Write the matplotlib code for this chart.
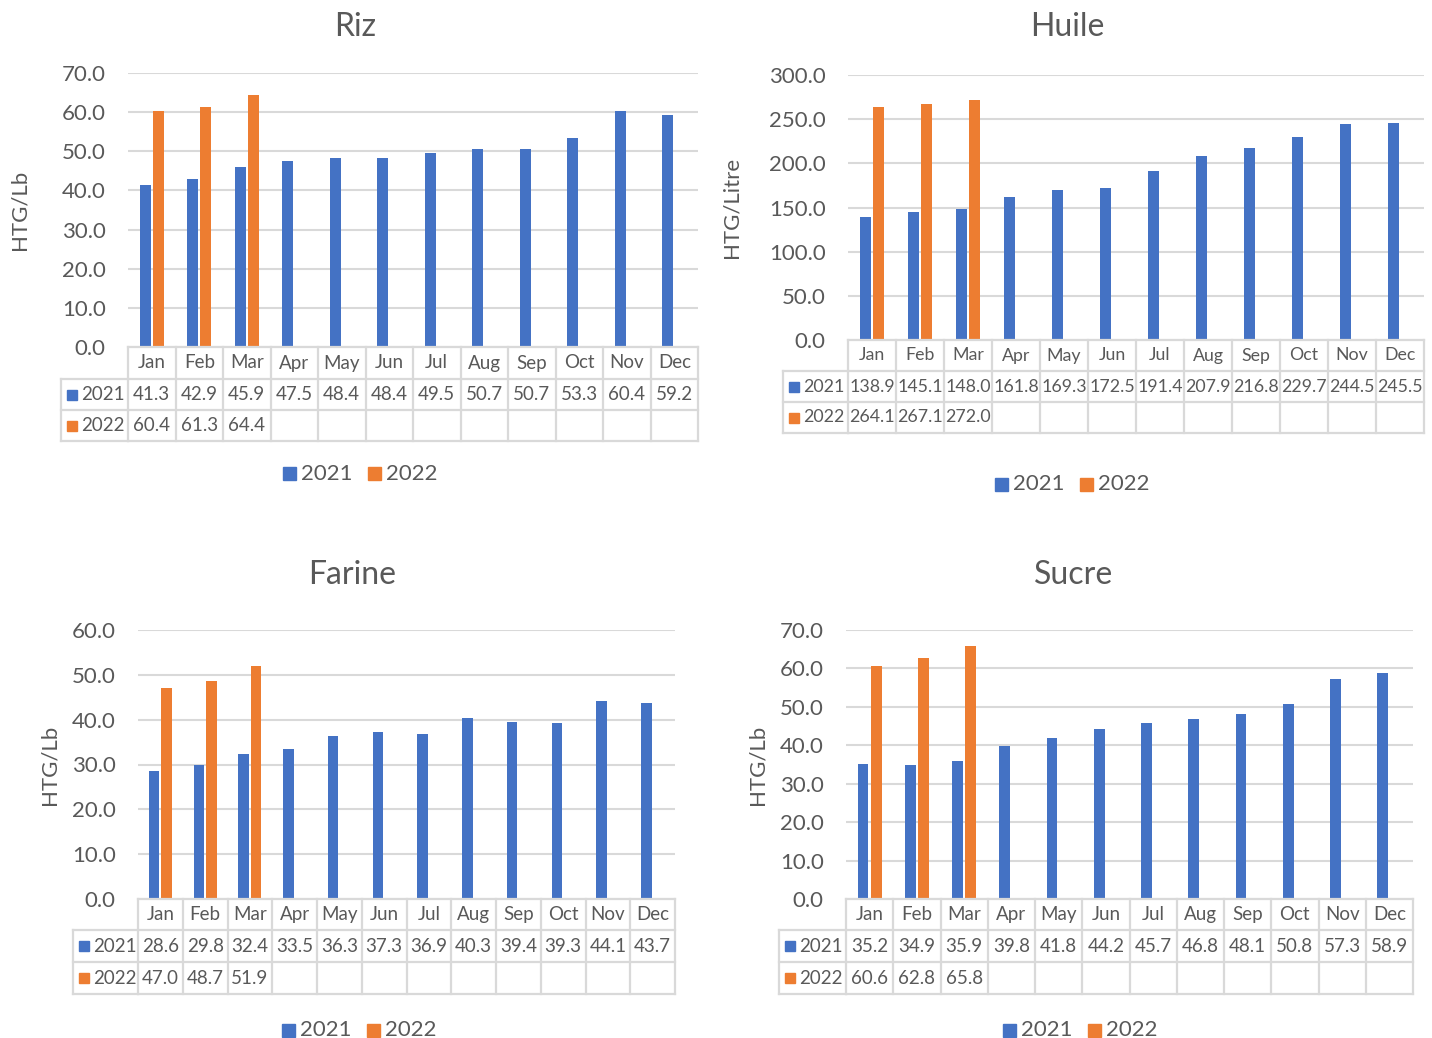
import matplotlib
matplotlib.use("Agg")
import matplotlib.pyplot as plt
from matplotlib.patches import Rectangle
from matplotlib.transforms import blended_transform_factory

plt.rcParams['font.family'] = ['Lato', 'DejaVu Sans']

months = ["Jan", "Feb", "Mar", "Apr", "May", "Jun", "Jul", "Aug", "Sep", "Oct", "Nov", "Dec"]
series_names = ["2021", "2022"]

riz_2021 = [41.3, 42.9, 45.9, 47.5, 48.4, 48.4, 49.5, 50.7, 50.7, 53.3, 60.4, 59.2]
riz_2022 = [60.4, 61.3, 64.4]
huile_2021 = [138.9, 145.1, 148.0, 161.8, 169.3, 172.5, 191.4, 207.9, 216.8, 229.7, 244.5, 245.5]
huile_2022 = [264.1, 267.1, 272.0]
farine_2021 = [28.6, 29.8, 32.4, 33.5, 36.3, 37.3, 36.9, 40.3, 39.4, 39.3, 44.1, 43.7]
farine_2022 = [47.0, 48.7, 51.9]
sucre_2021 = [35.2, 34.9, 35.9, 39.8, 41.8, 44.2, 45.7, 46.8, 48.1, 50.8, 57.3, 58.9]
sucre_2022 = [60.6, 62.8, 65.8]

W, H = 1432, 1038
fig = plt.figure(figsize=(W / 100, H / 100), dpi=100)

BLUE = "#4472C4"
ORANGE = "#ED7D31"
TXT = "#595959"
GRID = "#D9D9D9"


def fx(x):
    return x / W


def fy(y):
    return 1 - y / H


panels = [
    dict(title="Riz", ylabel="HTG/Lb", a=riz_2021, b=riz_2022, ymax=70, step=10,
         box=(128, 73, 698, 347), lab_left=61, rows=(379, 410, 441), leg=(358, 474),
         ylx=20, tt=(355, 27), tfs=13.5),
    dict(title="Huile", ylabel="HTG/Litre", a=huile_2021, b=huile_2022, ymax=300, step=50,
         box=(848, 75, 1424, 340), lab_left=783, rows=(371, 402, 433), leg=(1070, 484),
         ylx=731, tt=(1067, 27), tfs=12.8),
    dict(title="Farine", ylabel="HTG/Lb", a=farine_2021, b=farine_2022, ymax=60, step=10,
         box=(138, 630, 675, 899), lab_left=73, rows=(930, 962, 994), leg=(357, 1030),
         ylx=50, tt=(352, 575), tfs=13.5),
    dict(title="Sucre", ylabel="HTG/Lb", a=sucre_2021, b=sucre_2022, ymax=70, step=10,
         box=(846, 630, 1413, 899), lab_left=779, rows=(930, 962, 994), leg=(1078, 1030),
         ylx=758, tt=(1074, 575), tfs=13.5),
]

for p in panels:
    x0, y0, x1, y1 = p["box"]
    ax = fig.add_axes([fx(x0), fy(y1), fx(x1) - fx(x0), fy(y0) - fy(y1)])
    n = len(months)
    xs = list(range(n))
    w = 0.23
    ax.bar([x - 0.14 for x in xs], p["a"], width=w, color=BLUE, zorder=3)
    ax.bar([x + 0.14 for x in range(len(p["b"]))], p["b"], width=w, color=ORANGE, zorder=3)
    ax.set_xlim(-0.5, n - 0.5)
    ax.set_ylim(0, p["ymax"])
    ticks = list(range(0, p["ymax"] + 1, p["step"]))
    ax.set_yticks(ticks)
    ax.set_yticklabels([f"{t:.1f}" for t in ticks], fontsize=16, color=TXT)
    ax.tick_params(axis="y", length=0, pad=16)
    ax.set_xticks([])
    ax.grid(axis="y", color=GRID, linewidth=1.5, zorder=0)
    for s in ax.spines.values():
        s.set_visible(False)

    fig.text(fx(p["tt"][0]), fy(p["tt"][1]), p["title"], fontsize=23, color=TXT,
             ha="center", va="center")
    fig.text(fx(p["ylx"]), (fy(y0) + fy(y1)) / 2, p["ylabel"], fontsize=16, color=TXT,
             rotation=90, ha="center", va="center")

    # data table drawn below the axes
    trans = blended_transform_factory(ax.transData, fig.transFigure)
    r0, r1, r2 = p["rows"]
    ytop = fy(y1)
    yr = [ytop, fy(r0), fy(r1), fy(r2)]
    lw = 1.6
    tfs = p["tfs"]
    for yy in yr:
        ax.plot([-0.5, n - 0.5], [yy, yy], transform=trans, color=GRID, lw=lw,
                clip_on=False, zorder=5)
    lab_x0 = fx(p["lab_left"])
    lab_x1 = fx(x0)
    for yy in yr[1:]:
        fig.add_artist(plt.Line2D([lab_x0, lab_x1], [yy, yy], color=GRID, lw=lw))
    fig.add_artist(plt.Line2D([lab_x0, lab_x0], [yr[1], yr[3]], color=GRID, lw=lw))
    for k in range(n + 1):
        ax.plot([k - 0.5, k - 0.5], [ytop, yr[3]], transform=trans, color=GRID, lw=lw,
                clip_on=False, zorder=5)
    for k, m in enumerate(months):
        ax.text(k, (yr[0] + yr[1]) / 2, m, transform=trans, ha="center", va="center",
                fontsize=tfs, color=TXT, clip_on=False)
        ax.text(k, (yr[1] + yr[2]) / 2, f"{p['a'][k]:.1f}", transform=trans, ha="center",
                va="center", fontsize=tfs, color=TXT, clip_on=False)
        if k < len(p["b"]):
            ax.text(k, (yr[2] + yr[3]) / 2, f"{p['b'][k]:.1f}", transform=trans,
                    ha="center", va="center", fontsize=tfs, color=TXT, clip_on=False)
    sq = 10
    for yy, (name, col) in zip([(yr[1] + yr[2]) / 2, (yr[2] + yr[3]) / 2],
                               zip(series_names, [BLUE, ORANGE])):
        sx = p["lab_left"] + 6
        fig.add_artist(Rectangle((fx(sx), yy - sq / 2 / H), sq / W, sq / H,
                                 color=col, transform=fig.transFigure))
        fig.text(fx(sx + sq + 4), yy, name, fontsize=tfs, color=TXT, ha="left", va="center")

    lx, ly = p["leg"]
    for off, (name, col) in zip([-75, 10], zip(series_names, [BLUE, ORANGE])):
        sq2 = 13
        fig.add_artist(Rectangle((fx(lx + off), fy(ly) - sq2 / 2 / H), sq2 / W, sq2 / H,
                                 color=col, transform=fig.transFigure))
        fig.text(fx(lx + off + sq2 + 5), fy(ly), name, fontsize=16, color=TXT,
                 ha="left", va="center")

fig.savefig("out.png", dpi=100, facecolor="white")
